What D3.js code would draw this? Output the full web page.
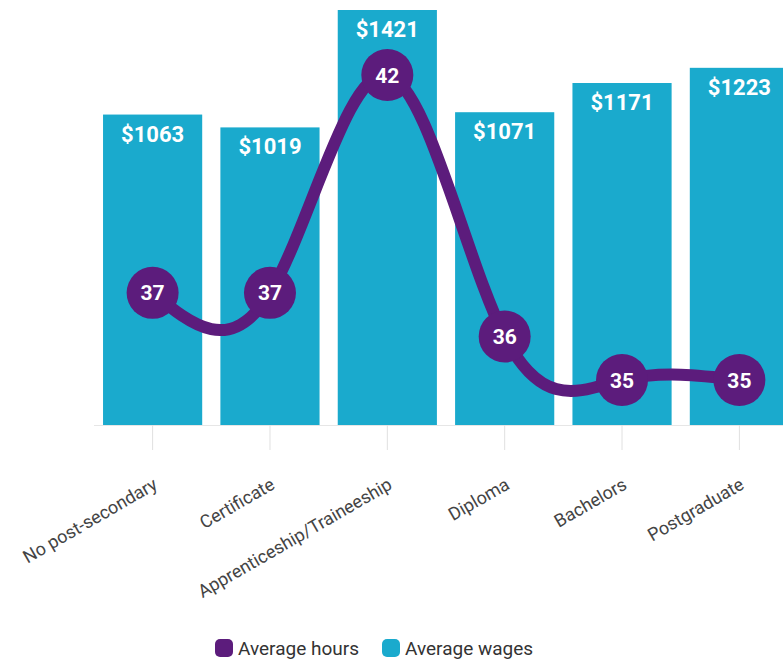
<!DOCTYPE html>
<html>
<head>
<meta charset="utf-8">
<script src="https://cdn.jsdelivr.net/npm/d3@7"></script>
<style>
  body { margin: 0; background: #fff; }
  svg { display: block; font-family: Roboto, "Noto Sans", sans-serif; }
</style>
</head>
<body>
<svg width="783" height="660"></svg>
<script>
const categories = ["No post-secondary", "Certificate", "Apprenticeship/Traineeship", "Diploma", "Bachelors", "Postgraduate"];
const wages = [1063, 1019, 1421, 1071, 1171, 1223];
const hours = [37, 37, 42, 36, 35, 35];
const legendItems = ["Average hours", "Average wages"];

const barColor = "#1aaacd";
const lineColor = "#5c1c7c";

const svg = d3.select("svg");

const x = d3.scaleBand()
    .domain(categories)
    .range([94, 798])
    .paddingInner(0.155)
    .paddingOuter(0.077);

const yWage = d3.scaleLinear()
    .domain([0, 1421])
    .range([425, 10]);

const yHours = d3.scaleLinear()
    .domain([35, 42])
    .range([380, 75]);

const cx = d => x(d) + x.bandwidth() / 2;

// axis line and ticks
const xAxis = d3.axisBottom(x).tickSize(25).tickFormat("");
const axisG = svg.append("g")
    .attr("transform", "translate(0,425)")
    .call(xAxis);
axisG.select(".domain").attr("stroke", "#e6e6e6").attr("d", "M94,0.5H798");
axisG.selectAll(".tick line").attr("stroke", "#e0e0e0");

// bars
svg.append("g")
    .selectAll("rect")
    .data(categories)
    .join("rect")
    .attr("x", d => x(d))
    .attr("y", (d, i) => yWage(wages[i]))
    .attr("width", x.bandwidth())
    .attr("height", (d, i) => yWage(0) - yWage(wages[i]))
    .attr("fill", barColor);

// wage labels
svg.append("g")
    .selectAll("text")
    .data(categories)
    .join("text")
    .attr("x", d => cx(d))
    .attr("y", (d, i) => yWage(wages[i]) + 27)
    .attr("text-anchor", "middle")
    .attr("fill", "#fff")
    .attr("font-size", 22)
    .attr("font-weight", "bold")
    .text((d, i) => "$" + wages[i]);

// hours line
const line = d3.line()
    .x(d => cx(d))
    .y((d, i) => yHours(hours[i]))
    .curve(d3.curveNatural);

svg.append("path")
    .datum(categories)
    .attr("d", line)
    .attr("fill", "none")
    .attr("stroke", lineColor)
    .attr("stroke-width", 12);

const points = svg.append("g")
    .selectAll("g")
    .data(categories)
    .join("g")
    .attr("transform", (d, i) => `translate(${cx(d)},${yHours(hours[i])})`);

points.append("circle")
    .attr("r", 26)
    .attr("fill", lineColor);

points.append("text")
    .attr("text-anchor", "middle")
    .attr("dy", "0.36em")
    .attr("fill", "#fff")
    .attr("font-size", 21)
    .attr("font-weight", "bold")
    .text((d, i) => hours[i]);

// category labels
svg.append("g")
    .selectAll("text")
    .data(categories)
    .join("text")
    .attr("transform", d => `translate(${cx(d) + 6},${488}) rotate(-30)`)
    .attr("text-anchor", "end")
    .attr("fill", "#444")
    .attr("font-size", 18)
    .text(d => d);

// legend
const legendX = [215, 382];
const legendColors = [lineColor, barColor];
const legend = svg.append("g")
    .selectAll("g")
    .data(legendItems)
    .join("g")
    .attr("transform", (d, i) => `translate(${legendX[i]},648)`);

legend.append("rect")
    .attr("x", 0)
    .attr("y", -9)
    .attr("width", 18)
    .attr("height", 18)
    .attr("rx", 5)
    .attr("fill", (d, i) => legendColors[i]);

legend.append("text")
    .attr("x", 23)
    .attr("y", 7)
    .attr("fill", "#333")
    .attr("font-size", 19)
    .text(d => d);
</script>
</body>
</html>
